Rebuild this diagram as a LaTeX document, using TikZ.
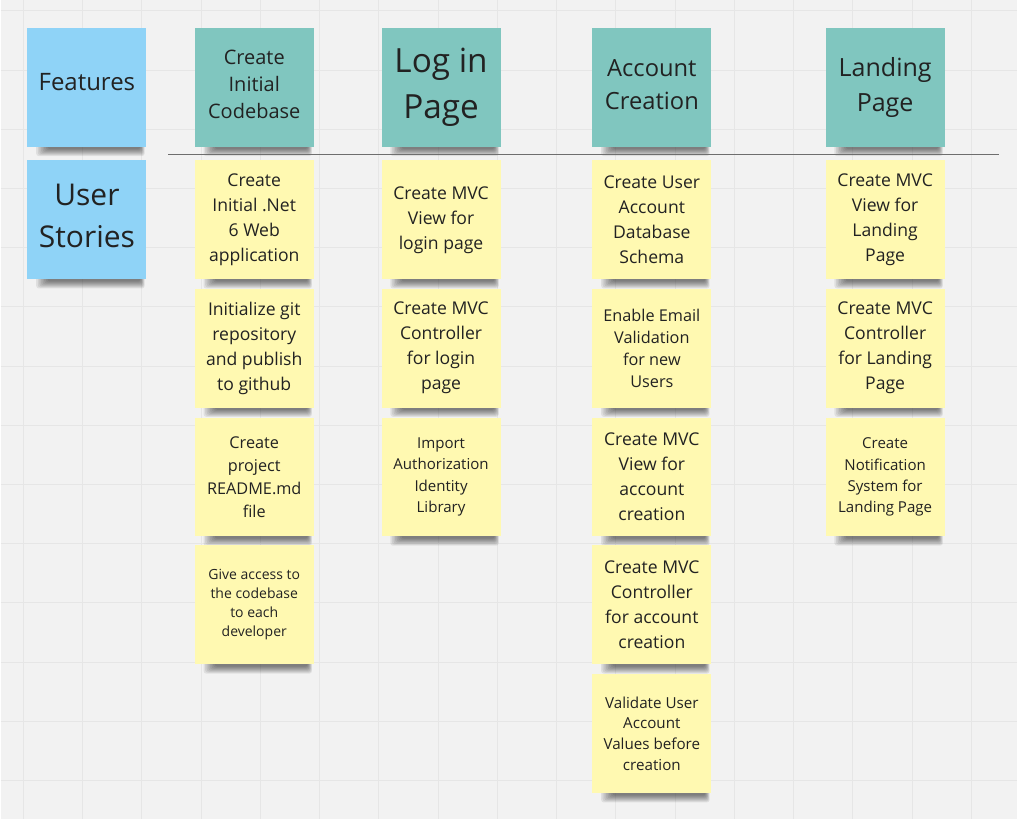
\documentclass[tikz,border=0pt]{standalone}
\usepackage{fontspec}
\setmainfont{Open Sans}
\usetikzlibrary{backgrounds}
\definecolor{board}{HTML}{F2F2F2}
\definecolor{gridline}{HTML}{E6E6E6}
\definecolor{rulegray}{HTML}{6E6E6E}
\definecolor{featblue}{HTML}{8FD3F7}
\definecolor{epicteal}{HTML}{80C6BF}
\definecolor{storyyellow}{HTML}{FFF9B1}
\definecolor{ink}{HTML}{222222}
\newcommand{\fs}[2]{\fontsize{#1}{#2}\selectfont}
\tikzset{
  sticky/.style={minimum width=89.25pt, minimum height=89.25pt, inner sep=0pt, align=center, text=ink},
  rowhead/.style={sticky, fill=featblue},
  feature/.style={sticky, fill=epicteal},
  story/.style={sticky, fill=storyyellow},
  storyL/.style={story, font=\fs{13.2pt}{18.75pt}},
  storyM/.style={story, font=\fs{12.2pt}{17pt}},
  storyS/.style={story, font=\fs{11.3pt}{16pt}},
  storyXS/.style={story, font=\fs{10.5pt}{14.3pt}},
  smudge/.style={black, opacity=0.075, rounded corners=2pt}
}
\begin{document}
\begin{tikzpicture}[x=0.75pt, y=-0.75pt]
\begin{scope}[on background layer]
\fill[board] (0,0) rectangle (1017,819);
\foreach \i in {0,...,16} \draw[gridline, line width=0.75pt] (23+59.3*\i,0) -- (23+59.3*\i,819);
\foreach \j in {0,...,13} \draw[gridline, line width=0.75pt] (0,10.5+59.25*\j) -- (1017,10.5+59.25*\j);
\end{scope}
\useasboundingbox (0,0) rectangle (1017,819);
\node[rowhead, font=\fs{18pt}{24pt}, text depth=7.5pt] (features) at (86.5,87) {Features};
\node[rowhead, font=\fs{22.5pt}{31.5pt}, text depth=6pt] (stories) at (86.5,219.5) {User\\Stories};
\node[feature, font=\fs{15pt}{20.5pt}, text depth=4.5pt] (codebase) at (254,87) {Create\\Initial\\Codebase};
\node[feature, font=\fs{25pt}{34pt}] (login) at (441,87) {Log in\\Page};
\node[feature, font=\fs{17.8pt}{24.75pt}, text depth=4.5pt] (account) at (652,87) {Account\\Creation};
\node[feature, font=\fs{18.8pt}{26pt}] (landing) at (885.5,87) {Landing\\Page};
\coordinate (sepL) at (168,154);
\coordinate (sepR) at (999,154);
\draw[rulegray, line width=0.8pt] (sepL) -- (sepR);
\node[storyL] (cb1) at (254,219.5) {Create\\Initial .Net\\6 Web\\application};
\node[storyL] (cb2) at (254,348) {Initialize git\\repository\\and publish\\to github};
\node[storyM, font=\fs{12.2pt}{17.25pt}] (cb3) at (254,477) {Create\\project\\README.md\\file};
\node[storyXS] (cb4) at (254,605) {Give access to\\the codebase\\to each\\developer};
\node[storyL] (li1) at (441,219.5) {Create MVC\\View for\\login page};
\node[storyL] (li2) at (441,348) {Create MVC\\Controller\\for login\\page};
\node[storyS] (li3) at (441,477) {Import\\Authorization\\Identity\\Library};
\node[storyL] (ac1) at (652,219.5) {Create User\\Account\\Database\\Schema};
\node[storyM, font=\fs{12.2pt}{16.5pt}] (ac2) at (652,348) {Enable Email\\Validation\\for new\\Users};
\node[storyL] (ac3) at (652,477) {Create MVC\\View for\\account\\creation};
\node[storyL] (ac4) at (652,605) {Create MVC\\Controller\\for account\\creation};
\node[storyS, font=\fs{11.4pt}{15.75pt}] (ac5) at (652,734) {Validate User\\Account\\Values before\\creation};
\node[storyL] (lp1) at (885.5,219.5) {Create MVC\\View for\\Landing\\Page};
\node[storyL] (lp2) at (885.5,348) {Create MVC\\Controller\\for Landing\\Page};
\node[storyS] (lp3) at (885.5,477) {Create\\Notification\\System for\\Landing Page};
\begin{scope}[on background layer]
\foreach \nm in {features,stories,codebase,login,account,landing,cb1,cb2,cb3,cb4,li1,li2,li3,ac1,ac2,ac3,ac4,ac5,lp1,lp2,lp3}
  \foreach \k in {0,...,7}
    \fill[smudge] ([shift={(9+1.6*\k,-10)}]\nm.south west) rectangle ([shift={(-2-0.6*\k,9-\k)}]\nm.south east);
\end{scope}
\end{tikzpicture}
\end{document}
